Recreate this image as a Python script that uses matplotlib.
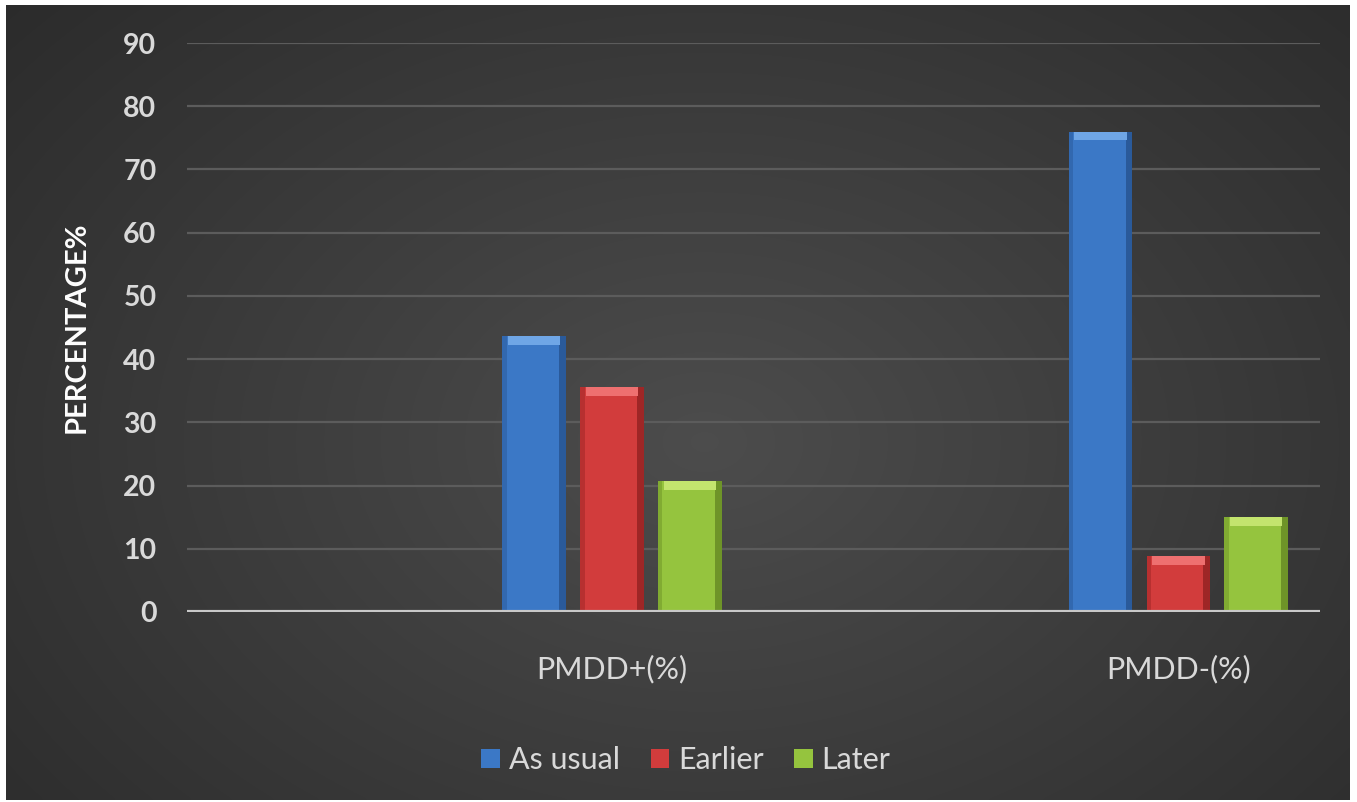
import numpy as np
import matplotlib
matplotlib.use("Agg")
from matplotlib import pyplot as plt
from matplotlib.patches import Patch

# data: percentage in each timing group
categories = ["", "PMDD+(%)", "", "PMDD-(%)"]
series = ["As usual", "Earlier", "Later"]
as_usual = [0, 43.6, 0, 76.0]
earlier = [0, 35.6, 0, 8.9]
later = [0, 20.7, 0, 15.0]

colors = ["#3b78c6", "#d23c3c", "#95c43e"]
tops = ["#6fa6e6", "#ee7070", "#c3e46e"]
sides = ["#2a5a9a", "#9e2626", "#6e9428"]
txt = "#d9d9d9"

fig = plt.figure(figsize=(13.57, 8.02), dpi=100)
fig.patch.set_facecolor("white")

# dark radial backdrop
bg = fig.add_axes([6 / 1357, 2 / 802, 1344 / 1357, 795 / 802])
yy, xx = np.mgrid[0:1:300j, 0:1:500j]
r = np.sqrt(((xx - 0.52) / 0.75) ** 2 + ((yy - 0.55) / 0.9) ** 2)
shade = np.clip(0.30 - 0.14 * r, 0.15, 0.30)
bg.imshow(np.dstack([shade, shade, shade]), aspect="auto", extent=[0, 1, 0, 1],
          interpolation="bicubic")
bg.axis("off")

ax = fig.add_axes([187 / 1357, 190 / 802, 1133 / 1357, 569 / 802])
ax.patch.set_alpha(0)

x = np.arange(len(categories))
w = 0.225
step = 0.275
shown = [1, 3]
for i, vals in enumerate([as_usual, earlier, later]):
    pos = x[shown] + (i - 1) * step
    v = np.array(vals)[shown]
    ax.bar(pos, v, width=w, color=colors[i], zorder=3)
    # bevel: darker right edge and lighter cap
    ax.bar(pos + w / 2 - 0.012, v, width=0.024, color=sides[i], zorder=4)
    ax.bar(pos - w / 2 + 0.008, v, width=0.016, color=sides[i], alpha=0.5, zorder=4)
    ax.bar(pos, np.full(len(v), 1.4), bottom=v - 1.4, width=w * 0.82,
           color=tops[i], zorder=5)

ax.set_xlim(-0.5, 3.5)
ax.set_ylim(0, 90)
ax.set_yticks(range(0, 91, 10))
ax.grid(axis="y", color="#5c5c5c", linewidth=1.6, zorder=0)
ax.axhline(0, color="#c8c8c8", linewidth=3, zorder=6)
for s in ax.spines.values():
    s.set_visible(False)

ax.set_xticks(x)
ax.set_xticklabels(categories, fontsize=22, color=txt, family="Lato")
ax.tick_params(axis="x", length=0, pad=31)
ax.tick_params(axis="y", length=0, pad=22, labelsize=20.5, labelcolor=txt)
for t in ax.get_yticklabels():
    t.set_fontweight("bold")
    t.set_family("Lato")

ax.set_ylabel("PERCENTAGE%", fontsize=21, fontweight="bold", color="white",
              family="Lato", labelpad=24)

handles = [Patch(facecolor=c) for c in colors]
fig.legend(handles, series, loc="center", bbox_to_anchor=(686 / 1357, 1 - 760 / 802),
           ncol=3, frameon=False, handlelength=0.6, handleheight=0.6,
           handletextpad=0.3, columnspacing=1.0,
           prop={"family": "Lato", "size": 22}, labelcolor=txt)

fig.savefig("out.png", dpi=100, facecolor=fig.get_facecolor())
